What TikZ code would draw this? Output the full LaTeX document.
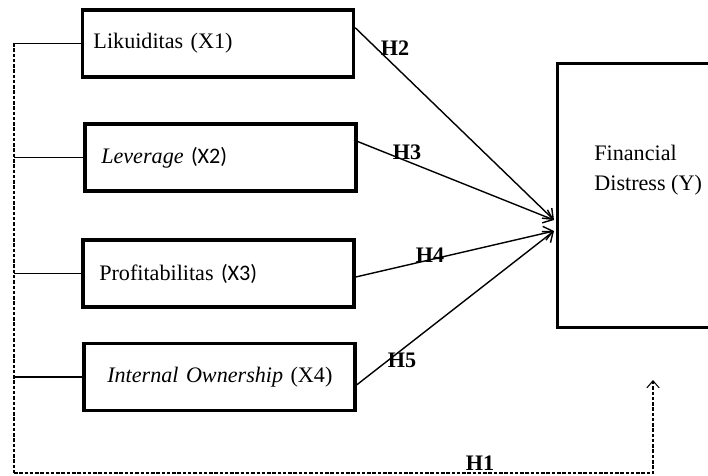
\documentclass[tikz,border=0pt]{standalone}
\usepackage{fontspec}
\setmainfont{Liberation Serif}
\newfontfamily\sansx{Carlito}
\usetikzlibrary{positioning,arrows.meta}
\tikzset{
  var/.style={draw, line width=2pt, text width=141.7pt, inner xsep=6.2pt,
    minimum height=38pt, align=left, font=\fontsize{12.6}{15}\selectfont},
  dep/.style={draw, line width=2pt, minimum width=115pt, minimum height=150.2pt},
  hyp/.style={font=\fontsize{12.6}{15}\selectfont\bfseries, inner sep=0pt},
  link/.style={line width=0.6pt},
  effect/.style={-{Straight Barb[length=5pt,width=8pt]}, line width=0.8pt},
  moder/.style={dash pattern=on 2pt off 1pt, line width=0.6pt}
}

\begin{document}
\begin{tikzpicture}[x=0.2mm, y=-0.2mm]
    \useasboundingbox (0,0) rectangle (708,475);
    % independent variables
    \node[var] (liku) at (218,43.5) {Likuiditas (X1)};
    \node[var] (lev) at (220.5,157.5) {\hspace*{3pt}\textit{Leverage} {\sansx (X2)}};
    \node[var] (prof) at (218.5,273.5) {\hspace*{3pt}Profitabilitas {\sansx (X3)}};
    \node[var] (own) at (219.5,377) {\hspace*{7pt}\textit{Internal Ownership} (X4)};
    % dependent variable
    \node[dep] (fd) at (658.5,195.5) {};
    \node[align=left, anchor=west, inner sep=0pt,
      font=\fontsize{12.6}{17}\selectfont] (fdtext) at (594,170) {Financial\\Distress (Y)};
    % end points
    \coordinate (in1) at (554,220);
    \coordinate (in2) at (554,231);
    \coordinate (bustop) at (14,43);
    \coordinate (busbot) at (14,473);
    \coordinate (h1end) at (653,380);
    % partial effects
    \draw[effect] ([yshift=9pt]liku.east) -- (in1);
    \draw[effect] ([yshift=9.9pt,xshift=-2pt]lev.east) -- (in1);
    \draw[effect] ([yshift=-2pt]prof.east) -- (in2);
    \draw[effect] ([yshift=-4.5pt]own.east) -- (in2);
    % simultaneous effect
    \foreach \b in {liku,lev,prof,own}
      \draw[link] (\b.west) -- (\b.west -| bustop);
    \draw[moder] (bustop) -- (busbot);
    \draw[moder,-{Straight Barb[length=4pt,width=7pt]}] (busbot) -| (h1end);
    % labels
    \node[hyp] (h2) at (395,48) {H2};
    \node[hyp] (h3) at (407,152) {H3};
    \node[hyp] (h4) at (430,255) {H4};
    \node[hyp] (h5) at (402,360) {H5};
    \node[hyp] (h1) at (480,463) {H1};
\end{tikzpicture}
\end{document}
